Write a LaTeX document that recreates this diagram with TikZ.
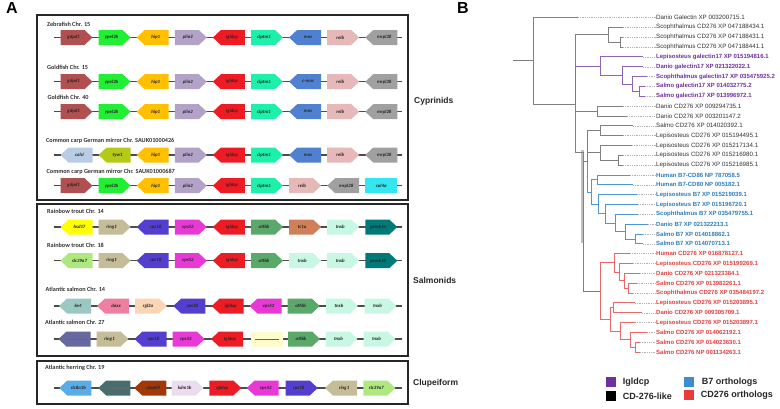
\documentclass[tikz,border=0pt]{standalone}
\usepackage{fontspec}
\setmainfont{Liberation Sans}
\newfontfamily\carl{Carlito}
\definecolor{cgdpd}{RGB}{176,80,80}
\definecolor{cypel}{RGB}{34,238,51}
\definecolor{chip}{RGB}{255,192,0}
\definecolor{cplin}{RGB}{179,162,199}
\definecolor{cigl}{RGB}{237,28,36}
\definecolor{cclp}{RGB}{29,240,170}
\definecolor{cmos}{RGB}{79,129,208}
\definecolor{crelb}{RGB}{230,184,183}
\definecolor{cmrp}{RGB}{160,160,160}
\definecolor{ccalc}{RGB}{184,204,228}
\definecolor{ctyw}{RGB}{181,201,24}
\definecolor{ccul}{RGB}{51,230,240}
\definecolor{chsd}{RGB}{255,255,0}
\definecolor{cring}{RGB}{196,189,151}
\definecolor{crps}{RGB}{84,62,208}
\definecolor{cvps}{RGB}{232,56,214}
\definecolor{catf}{RGB}{90,168,106}
\definecolor{ctc}{RGB}{207,128,90}
\definecolor{ctnx}{RGB}{200,248,228}
\definecolor{cpsm}{RGB}{0,122,120}
\definecolor{cslc}{RGB}{176,232,128}
\definecolor{cke}{RGB}{156,200,196}
\definecolor{cdaxx}{RGB}{239,127,160}
\definecolor{crgl}{RGB}{252,213,180}
\definecolor{cslate}{RGB}{104,104,160}
\definecolor{clyel}{RGB}{255,252,204}
\definecolor{cslce}{RGB}{90,172,232}
\definecolor{cdteal}{RGB}{70,110,110}
\definecolor{ccfap}{RGB}{160,56,8}
\definecolor{ckdm}{RGB}{236,220,240}
\definecolor{tpur}{RGB}{112,48,160}
\definecolor{tblu}{RGB}{46,125,190}
\definecolor{tred}{RGB}{228,62,62}
\definecolor{bpur}{RGB}{140,100,185}
\definecolor{bblu}{RGB}{80,150,210}
\definecolor{bred}{RGB}{232,105,105}
\definecolor{lgblu}{RGB}{60,140,210}
\definecolor{lgred}{RGB}{232,60,60}
\newcommand\gR[5]{\fill[#3] (#1,#2-7.5) -- ++(24,0) -- ++(8,7.5) -- ++(-8,7.5) -- ++(-24,0) -- cycle; \node[gl] (#5) at (#1+13,#2) {#4};}
\newcommand\gL[5]{\fill[#3] (#1,#2) -- ++(8,-7.5) -- ++(24,0) -- ++(0,15) -- ++(-24,0) -- cycle; \node[gl] (#5) at (#1+19,#2) {#4};}
\newcommand\gB[5]{\fill[#3] (#1,#2-7.5) rectangle ++(32,15); \node[gl] (#5) at (#1+16,#2) {#4};}
\newcommand\lfnode[4]{\pgfmathsetmacro\yy{17.5+9.84*(#1-1)}\coordinate (t#1) at (#2,\yy); \node[lf,#3] (l#1) at (656,\yy) {#4}; \draw[lead] (t#1) -- (l#1.west);}
\begin{document}
\begin{tikzpicture}[x=1pt,y=-1pt,
  gl/.style={font=\carl\bfseries\itshape\fontsize{4.8}{5}\selectfont,inner sep=0pt,text=black!85},
  ttl/.style={font=\carl\bfseries\fontsize{6.2}{7}\selectfont,anchor=west,inner sep=0pt,text=black!80},
  grp/.style={font=\bfseries\fontsize{8.5}{10}\selectfont,anchor=west,inner sep=0pt,text=black!85},
  pan/.style={font=\bfseries\fontsize{16}{18}\selectfont,anchor=north west,inner sep=0pt},
  bbone/.style={draw=black!70,line width=1.1pt},
  frame/.style={draw=black!85,line width=1.5pt},
  hatch/.style={draw=black!60,line width=0.6pt,dash pattern=on 0.5pt off 0.5pt},
  lf/.style={font=\fontsize{6.2}{7}\selectfont,anchor=west,inner sep=0pt,text=black!80},
  lfp/.style={font=\bfseries\fontsize{6}{7}\selectfont,text=tpur},
  lfb/.style={font=\bfseries\fontsize{6}{7}\selectfont,text=tblu},
  lfr/.style={font=\bfseries\fontsize{6}{7}\selectfont,text=tred},
  lead/.style={draw=black!30,line width=0.4pt,dash pattern=on 0.6pt off 1.2pt},
  br/.style={draw=black!50,line width=0.8pt},
  brp/.style={draw=bpur,line width=0.8pt},
  brb/.style={draw=bblu,line width=0.8pt},
  brr/.style={draw=bred,line width=0.8pt},
  ovl/.style={draw=black!25,line width=2.4pt},
  lgt/.style={font=\bfseries\fontsize{9}{10}\selectfont,anchor=west,inner sep=0pt,text=black!85},
  lgsq/.style={minimum size=10pt,inner sep=0pt}
]
\useasboundingbox[fill=white] (0,0) rectangle (780,408);
% panel labels
\node[pan] (pA) at (6,2) {A};
\node[pan] (pB) at (457,2) {B};
% frames
\draw[frame] (37,15) rectangle (408,200);
\draw[frame] (37,204) rectangle (408,356);
\draw[frame] (37,361) rectangle (408,404);
\node[grp] (cyp) at (414,101.7) {Cyprinids};
\node[grp] (sal) at (413,280.7) {Salmonids};
\node[grp] (clu) at (413,383) {Clupeiform};
% titles
\node[ttl] (h1) at (47,24) {Zebrafish Chr. 15};
\node[ttl] (h2) at (47,67.7) {Goldfish Chr. 15};
\node[ttl] (h3) at (47.5,97) {Goldfish Chr. 40};
\node[ttl] (h4) at (46,141) {Common carp German mirror Chr. SAUK01000426};
\node[ttl] (h5) at (46.5,172) {Common carp German mirror Chr. SAUK01000687};
\node[ttl] (h6) at (47,211) {Rainbow trout Chr. 14};
\node[ttl] (h7) at (47,245) {Rainbow trout Chr. 18};
\node[ttl] (h8) at (45.5,289) {Atlantic salmon Chr. 14};
\node[ttl] (h9) at (45,322.7) {Atlantic salmon Chr. 27};
\node[ttl] (h10) at (45,368) {Atlantic herring Chr. 19};
% backbones
\foreach \r/\yv in {1/37.5,2/81.7,3/111.7,4/155,5/185.7,6/227,7/260.7,8/306,9/339,10/388}{
  \coordinate (r\r a) at (53.5,\yv); \coordinate (r\r b) at (402,\yv);
  \draw[bbone] (r\r a) -- (r\r b);}
% row 1
\gR{60.5}{37.5}{cgdpd}{gdpd1}{g11}
\gR{98.6}{37.5}{cypel}{ypel2b}{g12}
\gL{136.7}{37.5}{chip}{hip1}{g13}
\gR{174.8}{37.5}{cplin}{plin2}{g14}
\gL{212.9}{37.5}{cigl}{igldcp}{g15}
\gR{251}{37.5}{cclp}{clptm1}{g16}
\gL{289.1}{37.5}{cmos}{mos}{g17}
\gR{327.2}{37.5}{crelb}{relb}{g18}
\gL{365.3}{37.5}{cmrp}{mrpl28}{g19}
% row 2
\gR{60.5}{81.7}{cgdpd}{gdpd1}{g21}
\gR{98.6}{81.7}{cypel}{ypel2b}{g22}
\gL{136.7}{81.7}{chip}{hip1}{g23}
\gR{174.8}{81.7}{cplin}{plin2}{g24}
\gL{212.9}{81.7}{cigl}{igldcp}{g25}
\gR{251}{81.7}{cclp}{clptm1}{g26}
\gL{289.1}{81.7}{cmos}{c-mos}{g27}
\gR{327.2}{81.7}{crelb}{relb}{g28}
\gL{365.3}{81.7}{cmrp}{mrpl28}{g29}
% row 3
\gR{60.5}{111.7}{cgdpd}{gdpd1}{g31}
\gR{98.6}{111.7}{cypel}{ypel2b}{g32}
\gL{136.7}{111.7}{chip}{hip1}{g33}
\gR{174.8}{111.7}{cplin}{plin2}{g34}
\gL{212.9}{111.7}{cigl}{igldcp}{g35}
\gR{251}{111.7}{cclp}{clptm1}{g36}
\gL{289.1}{111.7}{cmos}{mos}{g37}
\gR{327.2}{111.7}{crelb}{relb}{g38}
\gL{365.3}{111.7}{cmrp}{mrpl28}{g39}
% row 4
\gL{60.5}{155}{ccalc}{calcl}{g41}
\gL{98.6}{155}{ctyw}{tyw1}{g42}
\gL{136.7}{155}{chip}{hip1}{g43}
\gR{174.8}{155}{cplin}{plin2}{g44}
\gL{212.9}{155}{cigl}{igldcp}{g45}
\gR{251}{155}{cclp}{clptm1}{g46}
\gL{289.1}{155}{cmos}{mos}{g47}
\gR{327.2}{155}{crelb}{relb}{g48}
\gL{365.3}{155}{cmrp}{mrpl28}{g49}
% row 5
\gR{60.5}{185.7}{cgdpd}{gdpd1}{g51}
\gR{98.6}{185.7}{cypel}{ypel2b}{g52}
\gL{136.7}{185.7}{chip}{hip1}{g53}
\gR{174.8}{185.7}{cplin}{plin2}{g54}
\gL{212.9}{185.7}{cigl}{igldcp}{g55}
\gR{251}{185.7}{cclp}{clptm1}{g56}
\gR{289.1}{185.7}{crelb}{relb}{g57}
\gL{327.2}{185.7}{cmrp}{mrpl28}{g58}
\gB{365.3}{185.7}{ccul}{cul4a}{g59}
% row 6
\gL{60.5}{227}{chsd}{hsd17}{g61}
\gR{98.6}{227}{cring}{ring1}{g62}
\gL{136.7}{227}{crps}{rps18}{g63}
\gR{174.8}{227}{cvps}{vps52}{g64}
\gL{212.9}{227}{cigl}{igldcp}{g65}
\gR{251}{227}{catf}{atf6b}{g66}
\gR{289.1}{227}{ctc}{tc1a}{g67}
\gR{327.2}{227}{ctnx}{tnxb}{g68}
\gR{365.3}{227}{cpsm}{psmb10}{g69}
% row 7
\gL{60.5}{260.7}{cslc}{slc39a7}{g71}
\gR{98.6}{260.7}{cring}{ring1}{g72}
\gL{136.7}{260.7}{crps}{rps18}{g73}
\gR{174.8}{260.7}{cvps}{vps52}{g74}
\gL{212.9}{260.7}{cigl}{igldcp}{g75}
\gR{251}{260.7}{catf}{atf6b}{g76}
\gR{289.1}{260.7}{ctnx}{tnxb}{g77}
\gR{327.2}{260.7}{ctnx}{tnxb}{g78}
\gR{365.3}{260.7}{cpsm}{psmb10}{g79}
% row 8
\gL{59}{306}{cke}{ke4}{g81}
\gL{97}{306}{cdaxx}{daxx}{g82}
\gR{135}{306}{crgl}{rgl2a}{g83}
\gL{173.3}{306}{crps}{rps18}{g84}
\gL{211.7}{306}{cigl}{igldcp}{g85}
\gL{249.5}{306}{cvps}{vps52}{g86}
\gR{287.7}{306}{catf}{atf6b}{g87}
\gR{326}{306}{ctnx}{tnxb}{g88}
\gR{364.5}{306}{ctnx}{tnxb}{g89}
% row 9
\gL{58.5}{339}{cslate}{}{g91}
\gR{96.5}{339}{cring}{ring1}{g92}
\gL{134.5}{339}{crps}{rps18}{g93}
\gR{172.7}{339}{cvps}{vps52}{g94}
\gL{211}{339}{cigl}{igldcp}{g95}
\gB{251}{339}{clyel}{}{g96}
\gR{288}{339}{catf}{atf6b}{g97}
\gR{325.5}{339}{ctnx}{tnxb}{g98}
\gR{363.5}{339}{ctnx}{tnxb}{g99}
\draw[hatch] ([xshift=-11pt]g91.center) -- ([xshift=11pt]g91.center);
\draw[hatch] ([xshift=-12pt]g96.center) -- ([xshift=12pt]g96.center);
% row 10
\gL{59.3}{388}{cslce}{slc8a1b}{g101}
\gL{98.3}{388}{cdteal}{}{g102}
\gL{134.3}{388}{ccfap}{cfap69}{g103}
\gR{171.7}{388}{ckdm}{kdm1b}{g104}
\gR{209.3}{388}{cigl}{igldcp}{g105}
\gL{246.7}{388}{cvps}{vps52}{g106}
\gR{285.7}{388}{crps}{rps18}{g107}
\gL{325}{388}{cring}{ring1}{g108}
\gR{363.3}{388}{cslc}{slc39a7}{g109}
\draw[hatch] ([xshift=-11pt]g102.center) -- ([xshift=11pt]g102.center);
% ---------------- tree
\lfnode{1}{578}{}{Danio Galectin XP 003200715.1}
\lfnode{2}{623}{}{Scophthalmus CD276 XP 047188434.1}
\lfnode{3}{623}{}{Scophthalmus CD276 XP 047188431.1}
\lfnode{4}{623}{}{Scophthalmus CD276 XP 047188441.1}
\lfnode{5}{643}{lfp}{Lepisosteus galectin17 XP 015194816.1}
\lfnode{6}{643}{lfp}{Danio galectin17 XP 021322022.1}
\lfnode{7}{647}{lfp}{Scophthalmus galectin17 XP 035475925.2}
\lfnode{8}{645}{lfp}{Salmo galectin17 XP 014032775.2}
\lfnode{9}{645}{lfp}{Salmo galectin17 XP 013996972.1}
\lfnode{10}{623}{}{Danio CD276 XP 009294735.1}
\lfnode{11}{627}{}{Danio CD276 XP 003201147.2}
\lfnode{12}{633}{}{Salmo CD276 XP 014020392.1}
\lfnode{13}{623}{}{Lepisosteus CD276 XP 015194495.1}
\lfnode{14}{632}{}{Lepisosteus CD276 XP 015217134.1}
\lfnode{15}{623}{}{Lepisosteus CD276 XP 015216980.1}
\lfnode{16}{623}{}{Lepisosteus CD276 XP 015216985.1}
\lfnode{17}{630}{lfb}{Human B7-CD86 NP 787058.5}
\lfnode{18}{633}{lfb}{Human B7-CD80 NP 005182.1}
\lfnode{19}{637}{lfb}{Lepisosteus B7 XP 015219039.1}
\lfnode{20}{638}{lfb}{Lepisosteus B7 XP 015196720.1}
\lfnode{21}{638}{lfb}{Scophthalmus B7 XP 035479755.1}
\lfnode{22}{648}{lfb}{Danio B7 XP 021322213.1}
\lfnode{23}{643}{lfb}{Salmo B7 XP 014018862.1}
\lfnode{24}{643}{lfb}{Salmo B7 XP 014070713.1}
\lfnode{25}{630}{lfr}{Human CD276 XP 016878127.1}
\lfnode{26}{633}{lfr}{Lepisosteus CD276 XP 015199269.1}
\lfnode{27}{640}{lfr}{Danio CD276 XP 021323384.1}
\lfnode{28}{637}{lfr}{Salmo CD276 XP 013982261.1}
\lfnode{29}{633}{lfr}{Scophthalmus CD276 XP 035484197.2}
\lfnode{30}{635}{lfr}{Lepisosteus CD276 XP 015203895.1}
\lfnode{31}{642}{lfr}{Danio CD276 XP 009305709.1}
\lfnode{32}{635}{lfr}{Lepisosteus CD276 XP 015203897.1}
\lfnode{33}{647}{lfr}{Salmo CD276 XP 014062192.1}
\lfnode{34}{640}{lfr}{Salmo CD276 XP 014023630.1}
\lfnode{35}{640}{lfr}{Salmo CD276 NP 001134263.1}
% internal nodes
\coordinate (root) at (533,60.75);
\coordinate (stub) at (513,60.75);
\coordinate (N1) at (575,104);
\coordinate (SC) at (608,34.72);
\coordinate (SCs) at (620,42.1);
\coordinate (GP) at (600,66.09);
\coordinate (GA) at (622.7,75.31);
\coordinate (GB) at (632.7,83.92);
\coordinate (GC) at (639,91.3);
\coordinate (DC) at (597,110.98);
\coordinate (N3) at (583,152);
\coordinate (F) at (587,161.5);
\coordinate (D) at (600,130.66);
\coordinate (E) at (600.7,152.8);
\coordinate (Es) at (618,160.18);
\coordinate (Bb) at (591,192.01);
\coordinate (Bh) at (597,179.86);
\coordinate (Bc) at (598,204.16);
\coordinate (Bc2) at (605,213.69);
\coordinate (Bd) at (615,222.91);
\coordinate (Be) at (625,231.52);
\coordinate (Bs) at (635,238.9);
\coordinate (Rr) at (600,291.18);
\coordinate (Ru) at (614,262.89);
\coordinate (Ru2) at (619,272.11);
\coordinate (Ru3) at (624,280.72);
\coordinate (Ru4) at (628,288.1);
\coordinate (Rl) at (610,319.47);
\coordinate (Rl1) at (613,307.78);
\coordinate (Rl2) at (620,331.15);
\coordinate (Rl3) at (630,339.76);
\coordinate (Rl4) at (635,347.14);
\coordinate (ov1) at (582.5,150);
\coordinate (ov2) at (582.5,243);
\draw[ovl] (ov1) -- (ov2);
\draw[br] (stub) -- (root);
\draw[br] (root) |- (t1);
\draw[br] (root) |- (N1);
\draw[br] (N1) |- (SC);
\draw[br] (SC) |- (t2);
\draw[br] (SC) |- (SCs);
\draw[br] (SCs) |- (t3);
\draw[br] (SCs) |- (t4);
\draw[brp] (N1) |- (GP);
\draw[brp] (GP) |- (t5);
\draw[brp] (GP) |- (GA);
\draw[brp] (GA) |- (t6);
\draw[brp] (GA) |- (GB);
\draw[brp] (GB) |- (t7);
\draw[brp] (GB) |- (GC);
\draw[brp] (GC) |- (t8);
\draw[brp] (GC) |- (t9);
\draw[br] (N1) |- (DC);
\draw[br] (DC) |- (t10);
\draw[br] (DC) |- (t11);
\draw[br] (N1) |- (N3);
\draw[br] (N3) |- (F);
\draw[br] (F) |- (D);
\draw[br] (D) |- (t12);
\draw[br] (D) |- (t13);
\draw[br] (F) |- (E);
\draw[br] (E) |- (t14);
\draw[br] (E) |- (Es);
\draw[br] (Es) |- (t15);
\draw[br] (Es) |- (t16);
\draw[brb] (F) |- (Bb);
\draw[brb] (Bb) |- (Bh);
\draw[brb] (Bh) |- (t17);
\draw[brb] (Bh) |- (t18);
\draw[brb] (Bb) |- (Bc);
\draw[brb] (Bc) |- (t19);
\draw[brb] (Bc) |- (Bc2);
\draw[brb] (Bc2) |- (t20);
\draw[brb] (Bc2) |- (Bd);
\draw[brb] (Bd) |- (t21);
\draw[brb] (Bd) |- (Be);
\draw[brb] (Be) |- (t22);
\draw[brb] (Be) |- (Bs);
\draw[brb] (Bs) |- (t23);
\draw[brb] (Bs) |- (t24);
\draw[br] (N3) |- (Rr);
\draw[brr] (Rr) |- (Ru);
\draw[brr] (Ru) |- (t25);
\draw[brr] (Ru) |- (Ru2);
\draw[brr] (Ru2) |- (t26);
\draw[brr] (Ru2) |- (Ru3);
\draw[brr] (Ru3) |- (t27);
\draw[brr] (Ru3) |- (Ru4);
\draw[brr] (Ru4) |- (t28);
\draw[brr] (Ru4) |- (t29);
\draw[brr] (Rr) |- (Rl);
\draw[brr] (Rl) |- (Rl1);
\draw[brr] (Rl1) |- (t30);
\draw[brr] (Rl1) |- (t31);
\draw[brr] (Rl) |- (Rl2);
\draw[brr] (Rl2) |- (t32);
\draw[brr] (Rl2) |- (Rl3);
\draw[brr] (Rl3) |- (t33);
\draw[brr] (Rl3) |- (Rl4);
\draw[brr] (Rl4) |- (t34);
\draw[brr] (Rl4) |- (t35);
% legend
\node[lgsq,fill=tpur] (sq1) at (610.5,382) {};
\node[lgsq,fill=black] (sq2) at (610.5,396.3) {};
\node[lgsq,fill=lgblu] (sq3) at (689,382) {};
\node[lgsq,fill=lgred] (sq4) at (689,395) {};
\node[lgt] (lg1) at (622.7,382) {Igldcp};
\node[lgt] (lg2) at (622.7,396.5) {CD-276-like};
\node[lgt] (lg3) at (701.7,382) {B7 orthologs};
\node[lgt] (lg4) at (700.7,395) {CD276 orthologs};
\end{tikzpicture}
\end{document}
